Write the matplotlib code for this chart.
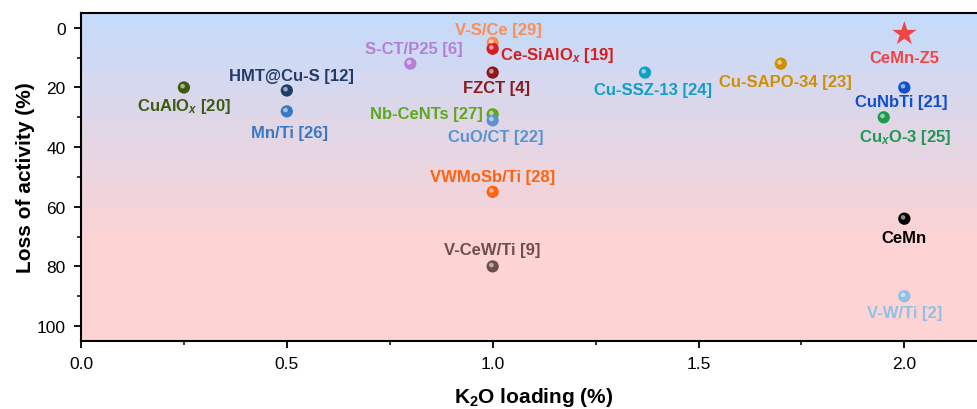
import matplotlib.pyplot as plt
import matplotlib.transforms as mtransforms
import numpy as np

plt.rcParams['font.family'] = ['Liberation Sans', 'DejaVu Sans']
plt.rcParams['mathtext.fontset'] = 'custom'
plt.rcParams['mathtext.rm'] = 'Liberation Sans:bold'
plt.rcParams['mathtext.it'] = 'Liberation Sans:italic:bold'
plt.rcParams['mathtext.bf'] = 'Liberation Sans:bold'

# data
names = ['CuAlO$_x$ [20]', 'HMT@Cu-S [12]', 'Mn/Ti [26]', 'S-CT/P25 [6]', 'V-S/Ce [29]',
         'Ce-SiAlO$_x$ [19]', 'FZCT [4]', 'Nb-CeNTs [27]', 'CuO/CT [22]', 'VWMoSb/Ti [28]',
         'V-CeW/Ti [9]', 'Cu-SSZ-13 [24]', 'Cu-SAPO-34 [23]', 'CuNbTi [21]', 'Cu$_x$O-3 [25]',
         'CeMn', 'V-W/Ti [2]']
k2o = [0.25, 0.5, 0.5, 0.8, 1.0, 1.0, 1.0, 1.0, 1.0, 1.0, 1.0, 1.37, 1.70, 2.0, 1.95, 2.0, 2.0]
loss = [20, 21, 28, 12, 5, 7, 15, 29, 31, 55, 80, 15, 12, 20, 30, 64, 90]
colors = ['#3d5a0f', '#1f3d6b', '#3b78c2', '#b57fd6', '#ff8c50', '#d41f1f', '#8b1a1a',
          '#5fa81e', '#5b93cf', '#ff6210', '#6e4e4e', '#0fa0c3', '#d08f00', '#0d4fd0',
          '#1e9950', '#000000', '#8fc0e6']
# label offsets (px) and alignment
offs = [(0, -18, 'center'), (5, 15, 'center'), (3, -21, 'center'), (3, 15, 'center'),
        (6, 13, 'center'), (7, -6, 'left'), (4, -15, 'center'), (-10, 1, 'right'),
        (3, -16, 'center'), (0, 15, 'center'), (0, 17, 'center'), (8, -17, 'center'),
        (5, -18, 'center'), (-3, -14, 'center'), (21, -19, 'center'), (0, -19, 'center'),
        (0, -16, 'center')]

star_name = 'CeMn-Z5'
star_x = 2.0
star_y = 2
star_color = '#f24444'

fig = plt.figure(figsize=(9.77, 4.10), dpi=100)
ax = fig.add_axes([0.0829, 0.166, 0.927, 0.800])

# gradient background
top = np.array([196, 219, 251]) / 255
bot = np.array([253, 211, 211]) / 255
yy = np.linspace(-5, 105, 220)
t = np.clip((yy + 5) / 77, 0, 1)
t = np.round(t * 10) / 10
grad = top[None, :] * (1 - t[:, None]) + bot[None, :] * t[:, None]
ax.imshow(grad[:, None, :], extent=[0, 2.2, 105, -5], aspect='auto', zorder=0,
          interpolation='nearest')

hl = mtransforms.offset_copy(ax.transData, fig=fig, x=-1.3, y=1.3, units='dots')
for n, x, y, c, o in zip(names, k2o, loss, colors, offs):
    ax.scatter(x, y, s=78, color=c, edgecolors='none', zorder=3)
    ax.scatter(x, y, s=11, color='white', alpha=0.55, edgecolors='none', zorder=4,
               transform=hl)
    ax.annotate(n, (x, y), xytext=(o[0] * 0.72, o[1] * 0.72), textcoords='offset points',
                ha=o[2], va='center', color=c, fontsize=12, fontweight='bold', zorder=5)

ax.scatter(star_x, star_y, marker='*', s=340, color=star_color, edgecolors='none', zorder=3)
ax.annotate(star_name, (star_x, star_y), xytext=(0, -24 * 0.72), textcoords='offset points',
            ha='center', va='center', color=star_color, fontsize=12, fontweight='bold')

ax.set_xticks([0, 0.5, 1.0, 1.5, 2.0])
ax.set_xticks([0.25, 0.75, 1.25, 1.75], minor=True)
ax.set_yticks([0, 20, 40, 60, 80, 100])
ax.set_yticks([10, 30, 50, 70, 90], minor=True)
ax.set_xticklabels(['0.0', '0.5', '1.0', '1.5', '2.0'])
ax.set_xlim(0, 2.2)
ax.set_ylim(105, -5)
ax.tick_params(which='major', direction='out', length=5, width=1.3, labelsize=12.5, pad=6)
ax.tick_params(which='minor', direction='out', length=3, width=1.1)
for s in ax.spines.values():
    s.set_linewidth(1.5)

ax.set_xlabel('K$_2$O loading (%)', fontsize=15, fontweight='bold', labelpad=10)
ax.set_ylabel('Loss of activity (%)', fontsize=15, fontweight='bold', labelpad=1)

fig.savefig('out.png', dpi=100)
